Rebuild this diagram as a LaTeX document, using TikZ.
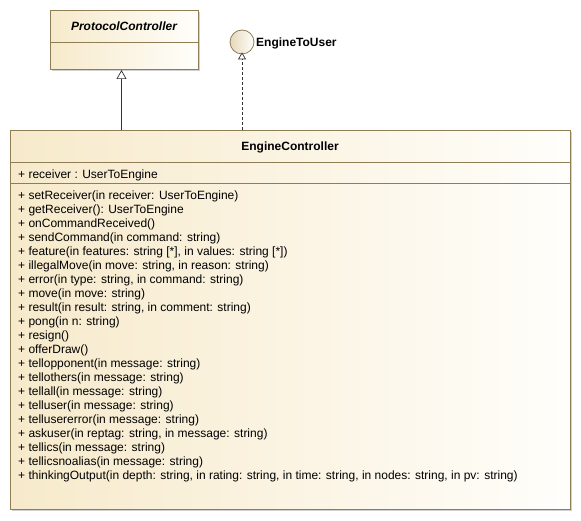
\documentclass[tikz,border=0pt]{standalone}
\usepackage{fontspec}
\setmainfont{Liberation Sans}
\usetikzlibrary{arrows.meta}
\definecolor{uleft}{HTML}{F7EACB}
\definecolor{uright}{HTML}{FFFEFB}
\definecolor{uborder}{HTML}{8F7D55}
\definecolor{utext}{HTML}{000000}
\tikzset{
  umlbox/.style={draw=uborder, line width=1pt, left color=uleft, right color=uright, shading angle=90, inner sep=0pt, anchor=north west},
  boxshadow/.style={fill=black!18, draw=none},
  member/.style={anchor=west, inner sep=0pt, yshift=-1.5pt, font=\fontsize{12}{14}\selectfont, text=utext},
  title/.style={inner sep=0pt, font=\bfseries\fontsize{12}{14}\selectfont},
  divider/.style={draw=uborder, line width=0.8pt},
  conn/.style={draw=black!80, line width=0.7pt},
}
\begin{document}
\begin{tikzpicture}[x=1pt,y=-1pt]
\useasboundingbox (0,0) rectangle (581,521);
% shadows
\fill[boxshadow] (52,12) rectangle (200,71);
\fill[boxshadow] (12,132) rectangle (572,511);
% ProtocolController
\node[umlbox, minimum width=148pt, minimum height=59pt] (pc) at (50,10) {};
\node[title, font=\bfseries\itshape\fontsize{12}{14}\selectfont] (pct) at (124,26) {ProtocolController};
\draw[divider] (50,42.3) -- (198,42.3);
% EngineToUser
\node[circle, draw=uborder, line width=0.8pt, left color=uleft!80!uborder!90, right color=uright, minimum size=24pt, inner sep=0pt] (etu) at (242,42) {};
\node[title, anchor=west] (etul) at (256,43.5) {EngineToUser};
% EngineController
\node[umlbox, minimum width=560pt, minimum height=379pt] (ec) at (10,130) {};
\node[title] (ect) at (290,147) {EngineController};
\draw[divider] (10,162) -- (570,162);
\node[member] (a1) at (18,173.5) {+ receiver : UserToEngine};
\draw[divider] (10,183.5) -- (570,183.5);
\node[member] (m0) at (18,195) {+ setReceiver(in receiver: UserToEngine)};
\node[member] (m1) at (18,209) {+ getReceiver(): UserToEngine};
\node[member] (m2) at (18,223) {+ onCommandReceived()};
\node[member] (m3) at (18,237) {+ sendCommand(in command: string)};
\node[member] (m4) at (18,251) {+ feature(in features: string [*], in values: string [*])};
\node[member] (m5) at (18,265) {+ illegalMove(in move: string, in reason: string)};
\node[member] (m6) at (18,279) {+ error(in type: string, in command: string)};
\node[member] (m7) at (18,293) {+ move(in move: string)};
\node[member] (m8) at (18,307) {+ result(in result: string, in comment: string)};
\node[member] (m9) at (18,321) {+ pong(in n: string)};
\node[member] (m10) at (18,335) {+ resign()};
\node[member] (m11) at (18,349) {+ offerDraw()};
\node[member] (m12) at (18,363) {+ tellopponent(in message: string)};
\node[member] (m13) at (18,377) {+ tellothers(in message: string)};
\node[member] (m14) at (18,391) {+ tellall(in message: string)};
\node[member] (m15) at (18,405) {+ telluser(in message: string)};
\node[member] (m16) at (18,419) {+ tellusererror(in message: string)};
\node[member] (m17) at (18,433) {+ askuser(in reptag: string, in message: string)};
\node[member] (m18) at (18,447) {+ tellics(in message: string)};
\node[member] (m19) at (18,461) {+ tellicsnoalias(in message: string)};
\node[member] (m20) at (18,475) {+ thinkingOutput(in depth: string, in rating: string, in time: string, in nodes: string, in pv: string)};
% connectors
\draw[conn, -{Triangle[open, length=9pt, width=10pt]}] (ec.north -| 121.5,0) -- (pc.south -| 121.5,0);
\draw[conn, dashed, dash pattern=on 3pt off 2pt, -{Triangle[open, length=7pt, width=8pt]}] (ec.north -| etu.south) -- ([yshift=2pt]etu.south);
\end{tikzpicture}
\end{document}
